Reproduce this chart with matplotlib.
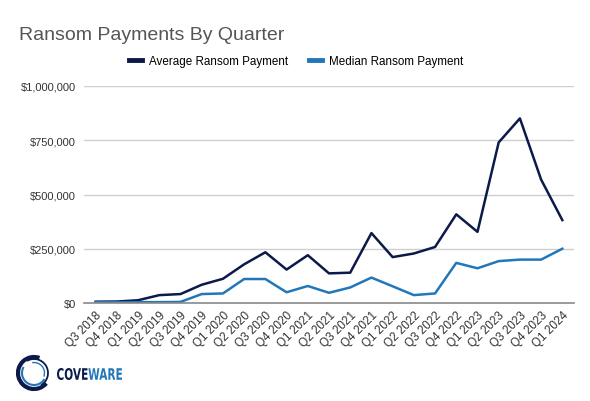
import numpy as np
import matplotlib
matplotlib.use('Agg')
import matplotlib.pyplot as plt
from matplotlib.lines import Line2D
from matplotlib.patches import Arc, PathPatch
from matplotlib.textpath import TextPath
from matplotlib.font_manager import FontProperties
from matplotlib.transforms import Affine2D
from matplotlib.ticker import FuncFormatter

plt.rcParams['font.family'] = ['Liberation Sans', 'DejaVu Sans']

quarters = ['Q3 2018', 'Q4 2018', 'Q1 2019', 'Q2 2019', 'Q3 2019', 'Q4 2019',
            'Q1 2020', 'Q2 2020', 'Q3 2020', 'Q4 2020', 'Q1 2021', 'Q2 2021',
            'Q3 2021', 'Q4 2021', 'Q1 2022', 'Q2 2022', 'Q3 2022', 'Q4 2022',
            'Q1 2023', 'Q2 2023', 'Q3 2023', 'Q4 2023', 'Q1 2024']
average = [5973, 6733, 12762, 36295, 41198, 84116, 111605, 178254, 233817,
           154108, 220298, 136576, 139739, 322168, 211529, 228125, 258143,
           408644, 327883, 740144, 850700, 568705, 381980]
median = [4000, 3500, 4000, 4000, 5000, 41179, 44021, 110532, 110532,
          49450, 78398, 47008, 71674, 117116, 77000, 36360, 44000,
          185000, 160000, 193000, 200000, 200000, 250000]
yticks = [0, 250000, 500000, 750000, 1000000]

navy = '#0c1a4a'
blue = '#2277b8'

W, H = 590, 402
fig = plt.figure(figsize=(W / 100, H / 100), dpi=100)
ax = fig.add_axes([84 / W, (H - 304) / H, (574 - 84) / W, (304 - 87) / H])

x = np.arange(len(quarters))
l1, = ax.plot(x, average, color=navy, lw=1.8, label='Average Ransom Payment')
l2, = ax.plot(x, median, color=blue, lw=1.8, label='Median Ransom Payment')

ax.set_xlim(-0.55, len(quarters) - 0.45)
ax.set_ylim(0, 1000000)
ax.set_yticks(yticks)
ax.yaxis.set_major_formatter(FuncFormatter(lambda v, p: '${:,.0f}'.format(v)))
ax.set_xticks(x)
ax.set_xticklabels(quarters, rotation=45, ha='right', rotation_mode='anchor')
ax.tick_params(axis='both', length=0, labelsize=8, labelcolor='#333333')
ax.tick_params(axis='x', labelsize=8.5, pad=4)
ax.tick_params(axis='y', pad=6)
ax.grid(axis='y', color='#cfcfcf', lw=1)
for s in ['top', 'right', 'left']:
    ax.spines[s].set_visible(False)
ax.spines['bottom'].set_color('#8a8a8a')
ax.spines['bottom'].set_linewidth(1.2)
ax.set_axisbelow(True)

fig.text(19 / W, (H - 35) / H, 'Ransom Payments By Quarter', fontsize=14,
         color='#555555', va='center', ha='left')

h1 = Line2D([], [], color=navy, lw=3.5)
h2 = Line2D([], [], color=blue, lw=3.5)
fig.legend([h1, h2], [l1.get_label(), l2.get_label()], ncol=2, frameon=False,
           loc='center', bbox_to_anchor=(296 / W, (H - 62) / H), fontsize=8.4,
           handlelength=1.1, handletextpad=0.6, columnspacing=1.8)

# logo
lax = fig.add_axes([0, 0, 1, 1], zorder=-1)
lax.set_xlim(0, W)
lax.set_ylim(0, H)
lax.axis('off')
cx, cy = 34, H - 374
lax.add_patch(Arc((cx, cy), 32, 32, theta1=70, theta2=320, color=navy, lw=3))
lax.add_patch(Arc((cx, cy), 28, 28, theta1=-60, theta2=120, color=navy, lw=1.3))
lax.add_patch(Arc((cx, cy), 24, 24, theta1=150, theta2=330, color=blue, lw=1.5))
lax.add_patch(Arc((cx, cy), 21, 21, theta1=-20, theta2=100, color=blue, lw=1))

prop = FontProperties(family='DejaVu Sans', weight='bold')
p1 = TextPath((0, 0), 'COVE', size=10, prop=prop)
e1 = p1.get_extents()
p2 = TextPath((e1.x1 + 0.5, 0), 'WARE', size=10, prop=prop)
e2 = p2.get_extents()
sx = (122 - 57) / (e2.x1 - e1.x0)
sy = 12 / (e1.y1 - e1.y0)
tr = Affine2D().translate(-e1.x0, -e1.y0).scale(sx, sy).translate(57, H - 381)
lax.add_patch(PathPatch(tr.transform_path(p1), fc=navy, ec='none'))
lax.add_patch(PathPatch(tr.transform_path(p2), fc=blue, ec='none'))

fig.savefig('out.png', dpi=100)
